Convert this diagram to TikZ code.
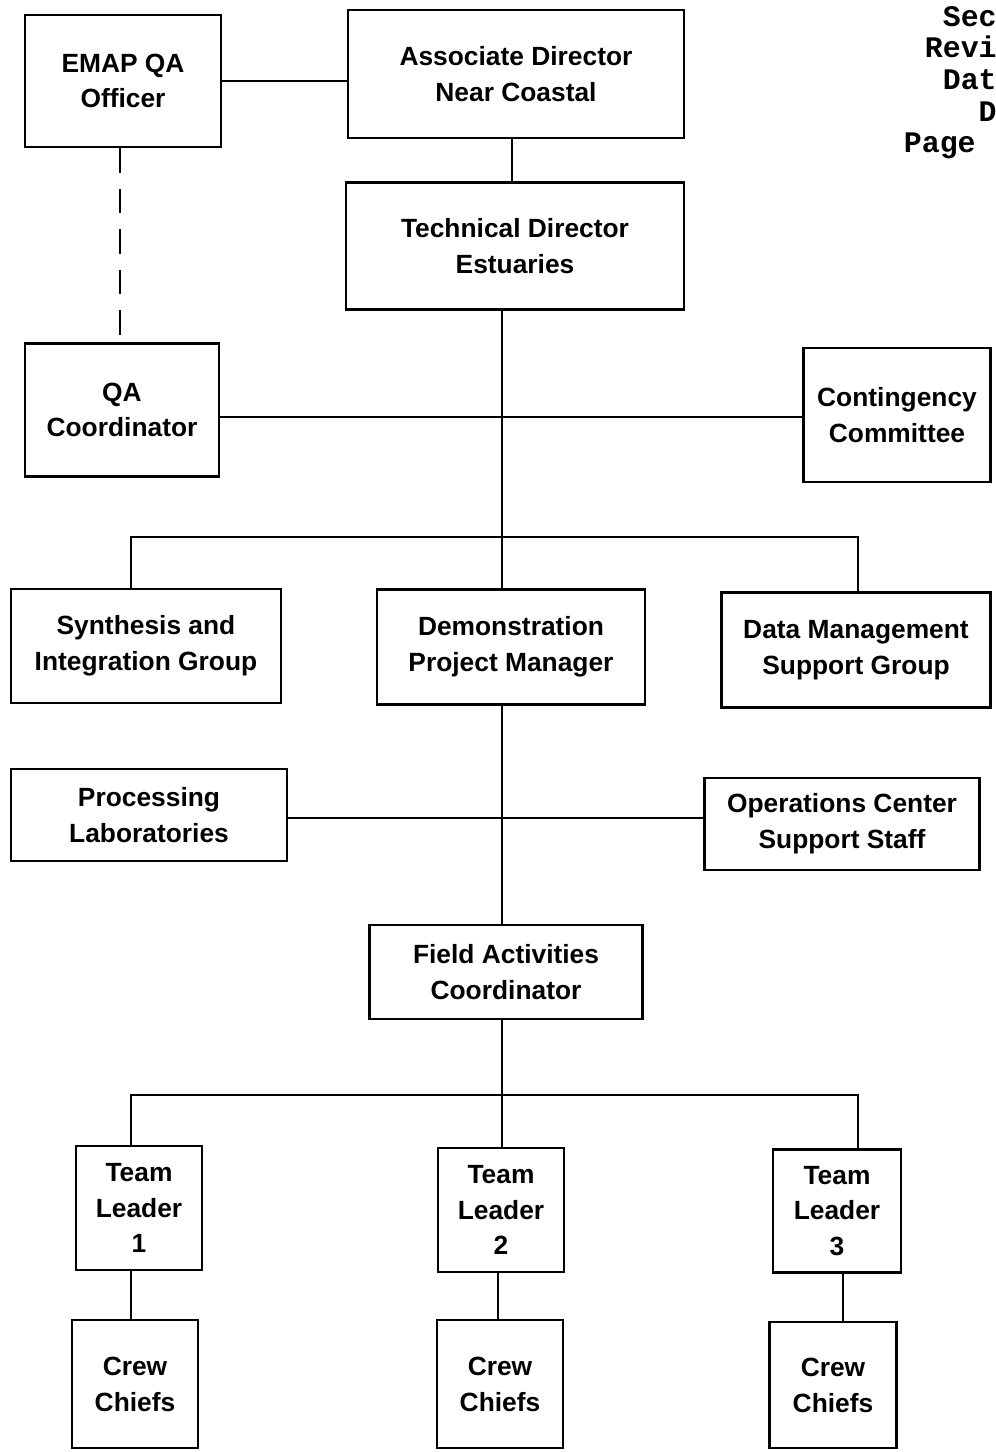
\documentclass[tikz,border=0pt]{standalone}
\usepackage{fontspec}
\setmainfont{Liberation Sans}
\newfontfamily\hdrfont{Liberation Mono}
\usepackage{tikz}

\tikzset{
    unit/.style={draw, line width=1.5pt, align=center, inner sep=0pt,
        font=\bfseries\fontsize{15}{20.4}\selectfont},
    link/.style={line width=1.1pt},
    hdr/.style={anchor=base east, inner sep=0pt,
        font=\hdrfont\bfseries\fontsize{17}{18}\selectfont},
}

\begin{document}
\begin{tikzpicture}[x=0.02cm, y=-0.02cm]
        \useasboundingbox (0,0) rectangle (995,1452);

        % page header (cut off at the edge)
        \node [hdr] (hsec) at (997,27) {Sec};
        \node [hdr] (hrev) at (997,58) {Revi};
        \node [hdr] (hdat) at (997,90) {Dat};
        \node [hdr] (hd) at (997,122) {D};
        \node [hdr] (hpage) at (976,153) {Page};

        % top row
        \node [unit,
            minimum width=3.92cm,
            minimum height=2.64cm,
        ] (officer) at (123,81) {EMAP QA\\Officer};

        \node [unit,
            minimum width=6.72cm,
            minimum height=2.56cm,
        ] (assoc) at (516,74) {Associate Director\\Near Coastal};

        \node [unit,
            minimum width=6.76cm,
            minimum height=2.54cm,
        ] (techdir) at (515,246) {Technical Director\\Estuaries};

        % QA and contingency
        \node [unit,
            minimum width=3.88cm,
            minimum height=2.66cm,
        ] (qacoord) at (122,410) {QA\\Coordinator};

        \node [unit,
            minimum width=3.74cm,
            minimum height=2.68cm,
        ] (conting) at (897,415) {Contingency\\Committee};

        % groups
        \node [unit,
            minimum width=5.4cm,
            minimum height=2.28cm,
        ] (synth) at (146,646) {Synthesis and\\Integration Group};

        \node [unit,
            minimum width=5.36cm,
            minimum height=2.3cm,
        ] (demo) at (511,647) {Demonstration\\Project Manager};

        \node [unit,
            minimum width=5.38cm,
            minimum height=2.3cm,
        ] (datamgt) at (856,650) {Data Management\\Support Group};

        % labs and operations
        \node [unit,
            minimum width=5.52cm,
            minimum height=1.84cm,
        ] (proclab) at (149,815) {Processing\\Laboratories};

        \node [unit,
            minimum width=5.5cm,
            minimum height=1.84cm,
        ] (opscenter) at (842,824) {Operations Center\\Support Staff};

        \node [unit,
            minimum width=5.46cm,
            minimum height=1.88cm,
        ] (field) at (506,972) {Field Activities\\Coordinator};

        % teams
        \node [unit, minimum width=2.52cm, minimum height=2.48cm]
            (lead1) at (139,1208) {Team\\Leader\\1};
        \node [unit, minimum width=2.52cm, minimum height=2.48cm]
            (lead2) at (501,1210) {Team\\Leader\\2};
        \node [unit, minimum width=2.56cm, minimum height=2.46cm]
            (lead3) at (837,1211) {Team\\Leader\\3};

        \node [unit, minimum width=2.52cm, minimum height=2.56cm]
            (crew1) at (135,1384) {Crew\\Chiefs};
        \node [unit, minimum width=2.52cm, minimum height=2.56cm]
            (crew2) at (500,1384) {Crew\\Chiefs};
        \node [unit, minimum width=2.54cm, minimum height=2.52cm]
            (crew3) at (833,1385) {Crew\\Chiefs};

        % junctions
        \coordinate (bar1) at (502,537);
        \coordinate (bar2) at (502,1095);

        % lines
        \draw [link] (officer.east) -- (officer.east -| assoc.west);
        \draw [link] (assoc.south -| 512,0) -- (techdir.north -| 512,0);
        \draw [link, dashed, dash pattern=on 14pt off 9pt]
            (officer.south -| 120,0) -- (qacoord.north -| 120,0);
        \draw [link] (techdir.south -| bar1) -- (demo.north -| bar1);
        \draw [line width=1.6pt] ([yshift=-0.14cm]qacoord.east)
            -- ([yshift=-0.14cm]qacoord.east -| conting.west);
        \draw [link] ([xshift=-0.3cm]synth.north) |- (bar1) -| ([xshift=0.04cm]datamgt.north);
        \draw [link] (demo.south -| bar1) -- (field.north -| bar1);
        \draw [line width=1.6pt] ([yshift=-0.06cm]proclab.east)
            -- ([yshift=-0.06cm]proclab.east -| opscenter.west);
        \draw [link] (field.south -| bar2) -- (bar2);
        \draw [link] ([xshift=-0.16cm]lead1.north) |- (bar2) -| ([xshift=0.42cm]lead3.north);
        \draw [link] (bar2) -- (lead2.north -| bar2);
        \draw [link] (lead1.south -| 131,0) -- (crew1.north -| 131,0);
        \draw [link] (lead2.south -| 498,0) -- (crew2.north -| 498,0);
        \draw [link] (lead3.south -| 843,0) -- (crew3.north -| 843,0);
        \end{tikzpicture}
\end{document}
